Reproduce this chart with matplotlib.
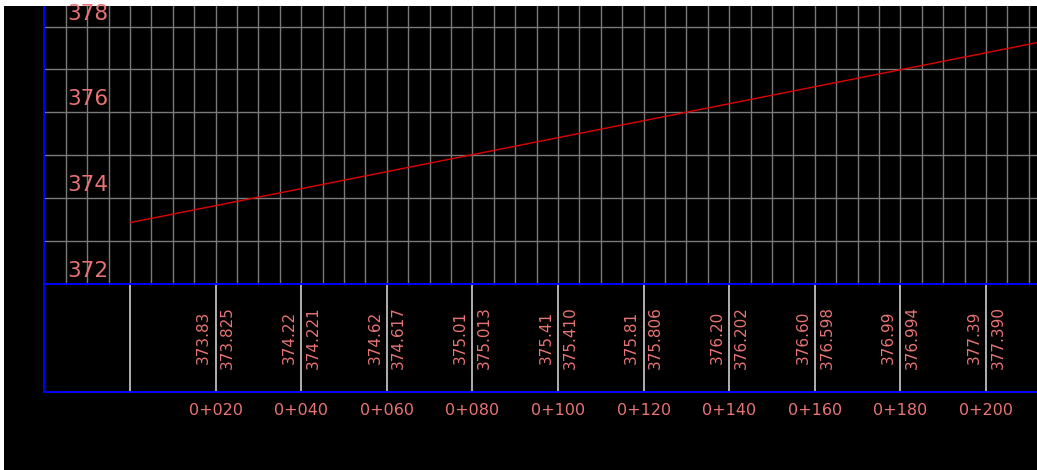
import numpy as np
import matplotlib.pyplot as plt

# profile data (chainage in m, elevation in m)
stations = [20, 40, 60, 80, 100, 120, 140, 160, 180, 200]
station_labels = ['0+020', '0+040', '0+060', '0+080', '0+100',
                  '0+120', '0+140', '0+160', '0+180', '0+200']
ground = [373.83, 374.22, 374.62, 375.01, 375.41,
          375.81, 376.20, 376.60, 376.99, 377.39]
design = [373.825, 374.221, 374.617, 375.013, 375.410,
          375.806, 376.202, 376.598, 376.994, 377.390]
line_ch = [0, 20, 40, 60, 80, 100, 120, 140, 160, 180, 200, 212]
line_elev = [373.429, 373.825, 374.221, 374.617, 375.013, 375.410,
             375.806, 376.202, 376.598, 376.994, 377.390, 377.628]
elev_labels = [372, 374, 376, 378]

txt_col = '#e87474'
grid_col = '#7a7a7a'
blue = '#0000ff'

fig = plt.figure(figsize=(10.37, 4.70), dpi=100)
fig.patch.set_facecolor('white')
ax = fig.add_axes([4/1037, 0, 1033/1037, 464/470])
ax.set_facecolor('black')
ax.set_xlim(-29.44, 211.9)
ax.set_ylim(367.66, 378.48)
ax.axis('off')
ax.add_patch(plt.Rectangle((-29.44, 367.66), 300, 20, color='black', zorder=0))

x0 = -20      # left edge of the drawing
datum = 372   # band top
band_bot = 369.49

# grid
for e in range(373, 379):
    ax.plot([x0, 215], [e, e], color=grid_col, lw=1.0, zorder=1)
for c in np.arange(-15, 215, 5):
    ax.plot([c, c], [datum, 379], color=grid_col, lw=1.0, zorder=1)

# band frame
ax.plot([x0, x0], [band_bot, 379], color=blue, lw=1.4, zorder=3)
ax.plot([x0, 215], [datum, datum], color=blue, lw=1.4, zorder=3)
ax.plot([x0, 215], [band_bot, band_bot], color=blue, lw=1.4, zorder=3)

for c in [0] + stations:
    ax.plot([c, c], [band_bot, datum], color='#e0e0e0', lw=1.1, zorder=2)

# profile line
ax.plot(line_ch, line_elev, color='#e00000', lw=1.0, zorder=4)

for e in elev_labels:
    ax.text(-14.6, e + 0.07, str(e), color=txt_col, fontsize=15.5,
            ha='left', va='bottom', zorder=5)

mid = (datum + band_bot) / 2
for c, g, d, lab in zip(stations, ground, design, station_labels):
    ax.text(c - 2.8, mid, f'{g:.2f}', color=txt_col, fontsize=11,
            rotation=90, ha='center', va='center')
    ax.text(c + 2.8, mid, f'{d:.3f}', color=txt_col, fontsize=11,
            rotation=90, ha='center', va='center')
    ax.text(c, band_bot - 0.44, lab, color=txt_col, fontsize=11.5,
            ha='center', va='center')

fig.savefig('out.png', dpi=100, facecolor='white')
